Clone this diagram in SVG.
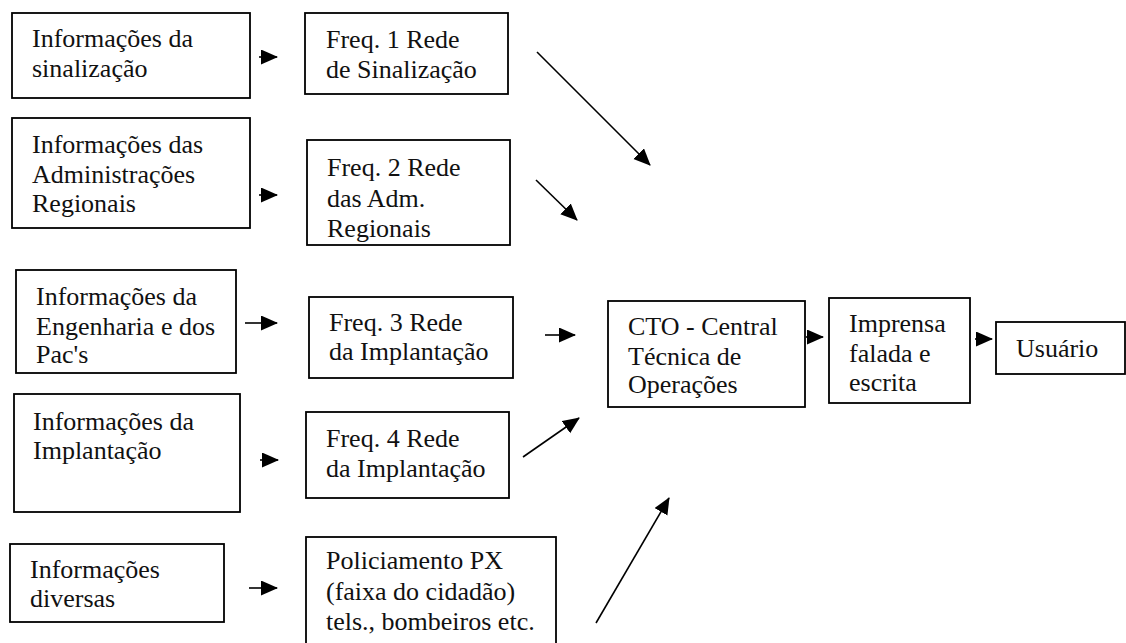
<svg xmlns="http://www.w3.org/2000/svg" width="1126" height="643" viewBox="0 0 1126 643">
<style>
.box{fill:#fff;stroke:#000;stroke-width:1.8}
text{font-family:'Liberation Serif','DejaVu Serif','Noto Serif',serif;font-size:26px;fill:#111}
.c{stroke:#000;stroke-width:1.6;fill:none;marker-end:url(#ah)}
</style>
<defs>
<marker id="ah" markerUnits="userSpaceOnUse" markerWidth="19" markerHeight="16" refX="16" refY="7.5" orient="auto">
<path d="M0,0 L17,7.5 L0,15 z" fill="#000"/>
</marker>
</defs>
<rect width="1126" height="643" fill="#fff"/>
<g id="n-sinal"><rect class="box" x="12" y="13" width="238" height="85"/>
<text x="32" y="47">Informações da<tspan x="32" dy="30">sinalização</tspan></text></g>
<g id="n-adm"><rect class="box" x="12" y="118" width="238" height="110"/>
<text x="32" y="153">Informações das<tspan x="32" dy="30">Administrações</tspan><tspan x="32" dy="29">Regionais</tspan></text></g>
<g id="n-eng"><rect class="box" x="16" y="270" width="220" height="103"/>
<text x="36" y="305">Informações da<tspan x="36" dy="30">Engenharia e dos</tspan><tspan x="36" dy="28">Pac's</tspan></text></g>
<g id="n-impl"><rect class="box" x="14" y="394" width="226" height="118"/>
<text x="33" y="430">Informações da<tspan x="33" dy="29">Implantação</tspan></text></g>
<g id="n-div"><rect class="box" x="10" y="544" width="214" height="78"/>
<text x="30" y="578">Informações<tspan x="30" dy="29">diversas</tspan></text></g>
<g id="n-f1"><rect class="box" x="305" y="13" width="203" height="81"/>
<text x="326" y="48">Freq. 1 Rede<tspan x="326" dy="30">de Sinalização</tspan></text></g>
<g id="n-f2"><rect class="box" x="307" y="140" width="203" height="105"/>
<text x="327" y="176">Freq. 2 Rede<tspan x="327" dy="31">das Adm.</tspan><tspan x="327" dy="30">Regionais</tspan></text></g>
<g id="n-f3"><rect class="box" x="309" y="297" width="204" height="81"/>
<text x="329" y="331">Freq. 3 Rede<tspan x="329" dy="29">da Implantação</tspan></text></g>
<g id="n-f4"><rect class="box" x="306" y="412" width="203" height="86"/>
<text x="326" y="447">Freq. 4 Rede<tspan x="326" dy="30">da Implantação</tspan></text></g>
<g id="n-pol"><rect class="box" x="306" y="537" width="250" height="120"/>
<text x="326" y="569">Policiamento PX<tspan x="326" dy="31">(faixa do cidadão)</tspan><tspan x="326" dy="30">tels., bombeiros etc.</tspan></text></g>
<g id="n-cto"><rect class="box" x="608" y="301" width="197" height="106"/>
<text x="628" y="335">CTO - Central<tspan x="628" dy="30">Técnica de</tspan><tspan x="628" dy="28">Operações</tspan></text></g>
<g id="n-imp"><rect class="box" x="829" y="298" width="141" height="105"/>
<text x="849" y="332">Imprensa<tspan x="849" dy="30">falada e</tspan><tspan x="849" dy="29">escrita</tspan></text></g>
<g id="n-usu"><rect class="box" x="996" y="322" width="129" height="52"/>
<text x="1016" y="357">Usuário</text></g>
<g id="connectors">
<line class="c" x1="259" y1="57" x2="277" y2="57"/>
<line class="c" x1="259" y1="195" x2="277" y2="195"/>
<line class="c" x1="245" y1="323" x2="277" y2="323"/>
<line class="c" x1="260" y1="460" x2="278" y2="460"/>
<line class="c" x1="249" y1="588" x2="277" y2="588"/>
<line class="c" x1="537" y1="52" x2="650" y2="165"/>
<line class="c" x1="536" y1="180" x2="577" y2="220"/>
<line class="c" x1="545" y1="335" x2="575" y2="335"/>
<line class="c" x1="523" y1="457" x2="579" y2="418"/>
<line class="c" x1="596" y1="623" x2="669" y2="498"/>
<line class="c" x1="806" y1="337" x2="823" y2="337"/>
<line class="c" x1="975" y1="339" x2="992" y2="339"/>
</g>
</svg>
